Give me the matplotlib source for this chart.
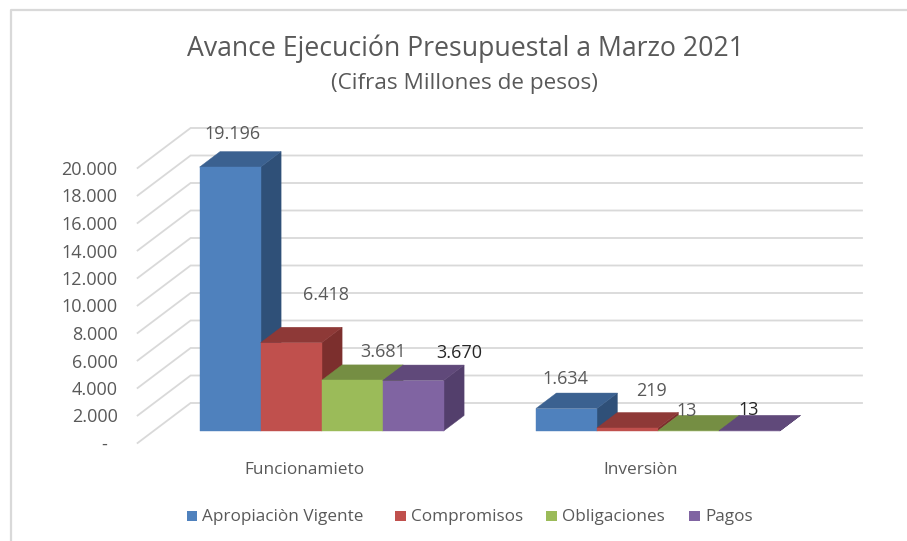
"""Avance ejecucion presupuestal, fake 3D column chart."""

import matplotlib
matplotlib.use("Agg")
import matplotlib.pyplot as plt
from matplotlib.patches import Polygon, Rectangle

plt.rcParams["font.family"] = ["Open Sans", "DejaVu Sans"]

categories = ["Funcionamieto", "Inversiòn"]
series_names = ["Apropiaciòn Vigente", "Compromisos", "Obligaciones", "Pagos"]
apropiacion = [19196, 1634]
compromisos = [6418, 219]
obligaciones = [3681, 13]
pagos = [3670, 13]
series_values = [apropiacion, compromisos, obligaciones, pagos]
value_labels = [["19.196", "1.634"], ["6.418", "219"], ["3.681", "13"], ["3.670", "13"]]
y_ticks = list(range(0, 20001, 2000))
y_tick_labels = ["-  ", "2.000", "4.000", "6.000", "8.000", "10.000", "12.000",
                 "14.000", "16.000", "18.000", "20.000"]

# front, top, side
colors = [
    ("#4F81BD", "#3B6190", "#2F5078"),
    ("#C0504D", "#8E3937", "#7C2F2D"),
    ("#9BBB59", "#758E43", "#667C3A"),
    ("#8064A2", "#60497A", "#533F6C"),
]
label_offsets = [[(2, 33), (-1, 30)], [(35, 48), (24, 37)], [(31, 28), (-2, 20)], [(46, 28), (-1, 21)]]
label_colors = [["#595959", "#595959"], ["#595959", "#595959"], ["#595959", "#595959"], ["#262626", "#262626"]]

PX_X = 336.3  # pixels per category
PX_Y = 13.75 / 1000  # pixels per unit
BAR_W = 61.0 / PX_X
DEPTH_X = 20.5 / PX_X
DEPTH_Y = 15.5 / PX_Y
WALL_BACK_X = -9.0 / PX_X  # first bar edge to back wall
WALL_BACK_Y = 28.0 / PX_Y
WALL_FRONT_X = -62.0 / PX_X
WALL_FRONT_Y = -12.0 / PX_Y
GRID_COLOR = "#D9D9D9"

fig = plt.figure(figsize=(9.07, 5.41), dpi=100)
ax = fig.add_axes([0, 0, 1, 1])
ax.set_xlim(-321.6 / PX_X, (907 - 321.6) / PX_X)
ax.set_ylim(-110 / PX_Y, 431 / PX_Y)
ax.axis("off")

# chart border, only top and left show in the crop
fig.add_artist(plt.Line2D([10.5 / 907, 10.5 / 907, 1], [0, 1 - 10 / 541, 1 - 10 / 541],
                          color=GRID_COLOR, lw=1.6, transform=fig.transFigure))

# gridlines and tick labels
x0 = -(len(series_names) / 2) * BAR_W  # left edge of first group
right_x = (862 - 321.6) / PX_X
for tick, label in zip(y_ticks, y_tick_labels):
    front = (x0 + WALL_FRONT_X, tick + WALL_FRONT_Y)
    back = (x0 + WALL_BACK_X, tick + WALL_BACK_Y)
    ax.plot([front[0], back[0], right_x], [front[1], back[1], back[1]],
            color=GRID_COLOR, lw=1.3, zorder=1, solid_joinstyle="miter")
    ax.annotate(label, xy=front, xytext=(-20, -2), textcoords="offset pixels",
                ha="right", va="center", fontsize=13, color="#595959")

# bars
for c, cat in enumerate(categories):
    left = c - len(series_names) / 2 * BAR_W
    for s, values in enumerate(series_values):
        v = values[c]
        x1 = left + s * BAR_W
        x2 = x1 + BAR_W
        front_col, top_col, side_col = colors[s]
        z = 3 + c + s * 0.1
        ax.add_patch(Polygon([(x2, 0), (x2 + DEPTH_X, DEPTH_Y), (x2 + DEPTH_X, v + DEPTH_Y), (x2, v)],
                             fc=side_col, ec=side_col, lw=0.3, zorder=z))
        ax.add_patch(Polygon([(x1, v), (x1 + DEPTH_X, v + DEPTH_Y), (x2 + DEPTH_X, v + DEPTH_Y), (x2, v)],
                             fc=top_col, ec=top_col, lw=0.3, zorder=z))
        ax.add_patch(Rectangle((x1, 0), BAR_W, v, fc=front_col, ec=front_col, lw=0.3, zorder=z + 0.05))
        dx, dy = label_offsets[s][c]
        ax.annotate(value_labels[s][c], xy=((x1 + x2) / 2, v), xytext=(dx, dy),
                    textcoords="offset pixels", ha="center", va="center",
                    fontsize=13, color=label_colors[s][c], zorder=10)
    ax.annotate(cat, xy=(c, 0), xytext=(-17, -39), textcoords="offset pixels",
                ha="center", va="center", fontsize=12.4, color="#595959")

# titles
fig.text(465.5 / 907, 1 - 49 / 541, "Avance Ejecución Presupuestal a Marzo 2021",
         ha="center", va="center", fontsize=19.2, color="#595959")
fig.text(464.5 / 907, 1 - 84 / 541, "(Cifras Millones de pesos)",
         ha="center", va="center", fontsize=16.2, color="#595959")

# legend
legend_x = [186.5, 395, 546, 689]
for name, col, lx in zip(series_names, colors, legend_x):
    fig.add_artist(Rectangle((lx / 907, 1 - 520.5 / 541), 10.5 / 907, 10 / 541, fc=col[0], ec="none",
                             transform=fig.transFigure))
    fig.text((lx + 16) / 907, 1 - 517 / 541, name, ha="left", va="center", fontsize=12.3, color="#595959")

fig.savefig("out.png", dpi=100)
plt.close(fig)
